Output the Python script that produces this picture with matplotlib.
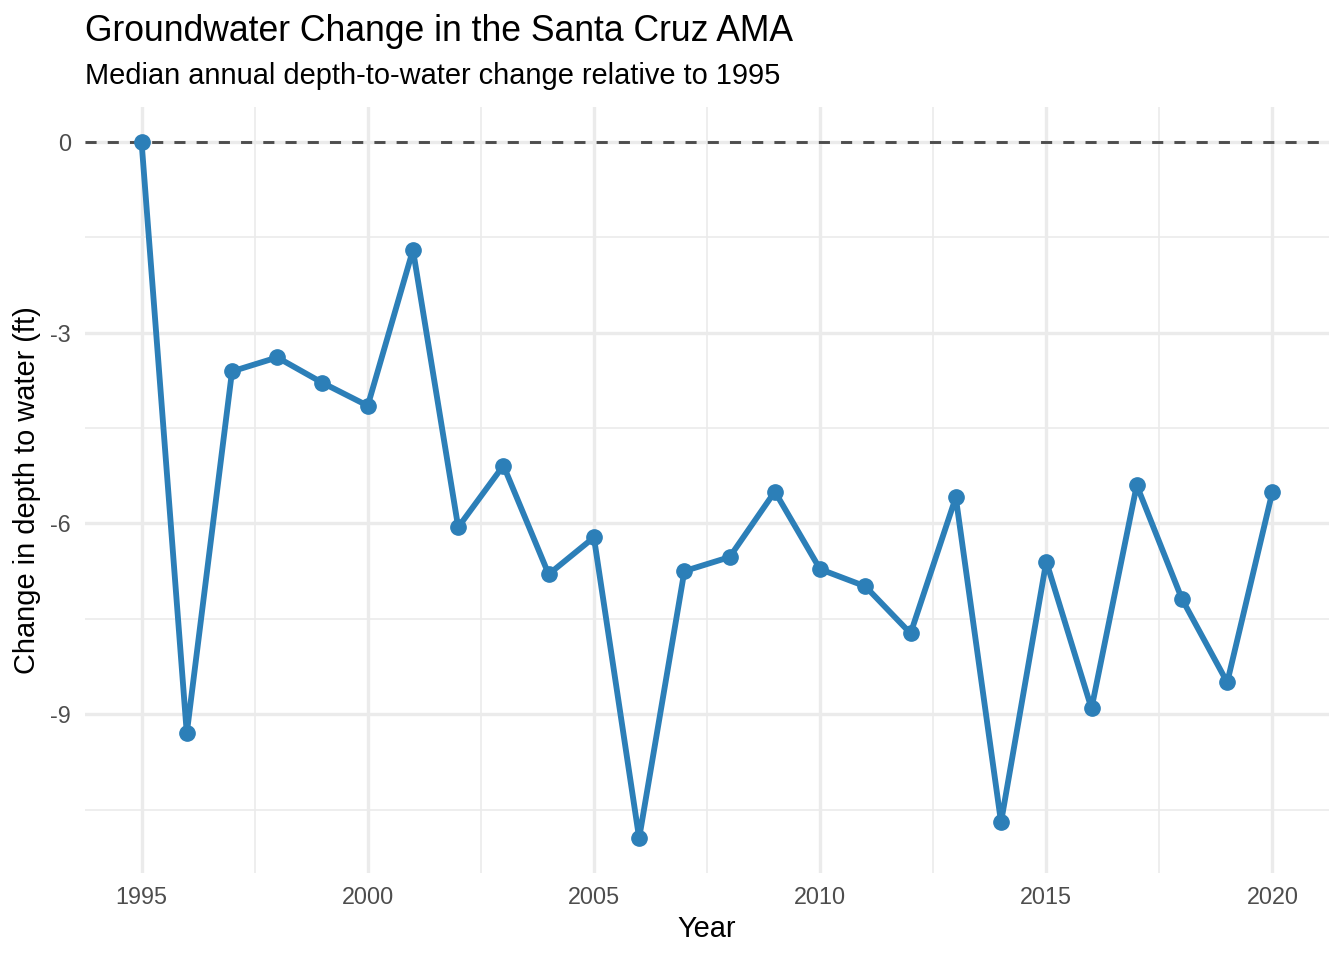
import matplotlib
matplotlib.use("Agg")
import matplotlib.pyplot as plt
from matplotlib.ticker import MultipleLocator

plt.rcParams['font.family'] = ['Liberation Sans', 'DejaVu Sans']
plt.rcParams['lines.scale_dashes'] = False

years = [1995, 1996, 1997, 1998, 1999, 2000, 2001, 2002, 2003, 2004, 2005, 2006, 2007,
         2008, 2009, 2010, 2011, 2012, 2013, 2014, 2015, 2016, 2017, 2018, 2019, 2020]
change_ft = [0.0, -9.30, -3.61, -3.39, -3.79, -4.15, -1.70, -6.06, -5.09, -6.80, -6.22,
             -10.95, -6.75, -6.53, -5.50, -6.72, -6.99, -7.73, -5.59, -10.70, -6.60,
             -8.91, -5.40, -7.19, -8.50, -5.50]
x_ticks = [1995, 2000, 2005, 2010, 2015, 2020]
y_ticks = [0, -3, -6, -9]

title = "Groundwater Change in the Santa Cruz AMA"
subtitle = "Median annual depth-to-water change relative to 1995"

W, H = 1344, 960
fig = plt.figure(figsize=(W / 100, H / 100), dpi=100)
left, right, top, bottom = 85, 1329, 107, 873
ax = fig.add_axes([left / W, 1 - bottom / H, (right - left) / W, (bottom - top) / H])

for s in ax.spines.values():
    s.set_visible(False)

xmin, xmax = min(years), max(years)
ypad = (max(change_ft) - min(change_ft)) * 0.05
xpad = (xmax - xmin) * 0.05
ax.set_xlim(xmin - xpad, xmax + xpad)
ax.set_ylim(min(change_ft) - ypad, max(change_ft) + ypad)

ax.set_xticks(x_ticks)
ax.set_yticks(y_ticks)
ax.set_yticklabels([str(v) for v in y_ticks])
ax.xaxis.set_minor_locator(MultipleLocator(2.5))
ax.yaxis.set_minor_locator(MultipleLocator(1.5))
ax.grid(which='major', color='#EBEBEB', linewidth=2.4)
ax.grid(which='minor', color='#EBEBEB', linewidth=1.2)
ax.set_axisbelow(True)
ax.tick_params(which='both', length=0)
ax.tick_params(axis='x', labelsize=16.8, labelcolor='#4D4D4D', pad=9)
ax.tick_params(axis='y', labelsize=16.8, labelcolor='#4D4D4D', pad=10)

ax.axhline(0, color='#4D4D4D', linewidth=2.1, linestyle=(0, (8, 8)), zorder=2)
ax.plot(years, change_ft, color='#2C7FB8', linewidth=4.2, marker='o', markersize=11,
        zorder=3, solid_capstyle='butt')

ax.set_xlabel("Year", fontsize=20.9, va='baseline')
ax.xaxis.set_label_coords(0.5, (bottom - 937) / (bottom - top))
ax.set_ylabel("Change in depth to water (ft)", fontsize=20.9, va='center')
ax.yaxis.set_label_coords((27 - left) / (right - left), 0.5)

fig.text(left / W, 1 - 41 / H, title, fontsize=25.6, ha='left', va='baseline')
fig.text(left / W, 1 - 84 / H, subtitle, fontsize=20.9, ha='left', va='baseline')

fig.savefig("out.png", dpi=100, facecolor='white')
